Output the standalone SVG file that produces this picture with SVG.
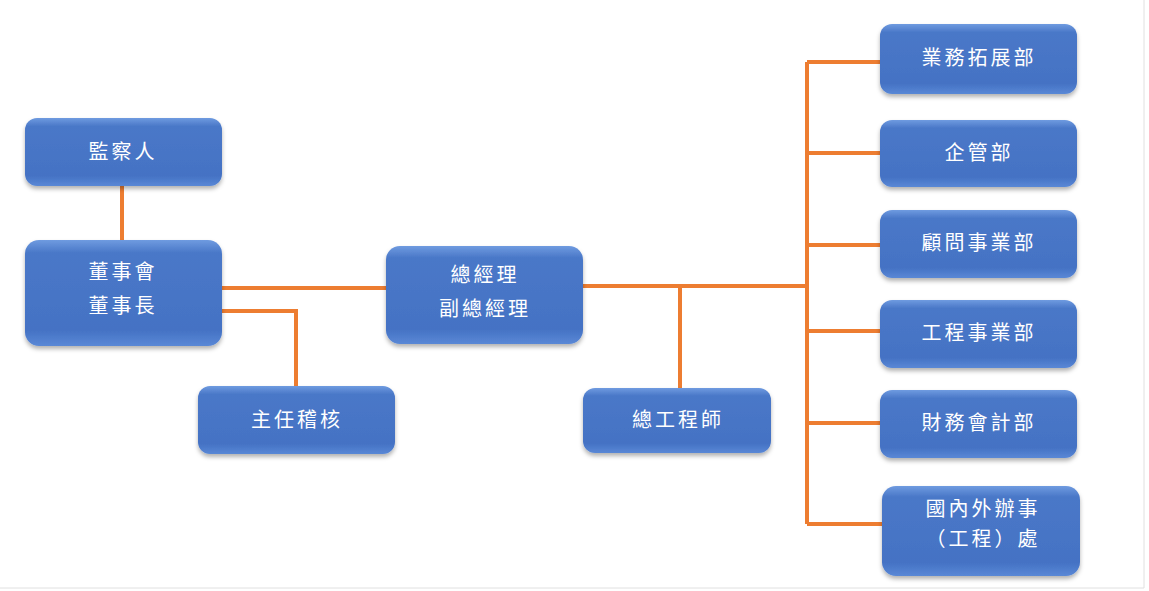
<svg xmlns="http://www.w3.org/2000/svg" width="1149" height="591" viewBox="0 0 1149 591">
<defs>
<linearGradient id="g" x1="0" y1="0" x2="0" y2="1">
<stop offset="0" stop-color="#6f9be0"/><stop offset="0.12" stop-color="#4a78c8"/><stop offset="0.85" stop-color="#4472c4"/><stop offset="1" stop-color="#5a88d6"/>
</linearGradient>
<filter id="s" x="-10%" y="-10%" width="120%" height="130%"><feDropShadow dx="0" dy="3" stdDeviation="2" flood-color="#000" flood-opacity="0.3"/></filter>
</defs>
<style>
.n rect{fill:url(#g);filter:url(#s)}
.n text{fill:#fff;font-family:"Noto Sans CJK TC","Noto Sans CJK SC",sans-serif;font-size:20px;letter-spacing:3px;text-anchor:middle}
.c{stroke:#ed7d31;stroke-width:4;fill:none}
</style>
<rect width="1149" height="591" fill="#fff"/>
<path d="M1144 0V588H0" stroke="#e0e0e0" stroke-width="1" fill="none"/>
<g id="connectors" class="c">
<path d="M122 186V240"/>
<path d="M222 288H386"/>
<path d="M222 311H296V386"/>
<path d="M583 286H807"/>
<path d="M680 286V388"/>
<path d="M807 62V524"/>
<path d="M807 62H880M807 153H880M807 245H880M807 331H880M807 423H880M807 524H882"/>
</g>
<g id="n1" class="n"><rect x="25" y="118" width="197" height="68" rx="12"/><text x="123" y="159">監察人</text></g>
<g id="n2" class="n"><rect x="25" y="240" width="197" height="106" rx="14"/><text x="123" y="279">董事會</text><text x="123" y="313">董事長</text></g>
<g id="n3" class="n"><rect x="198" y="386" width="197" height="68" rx="12"/><text x="297" y="427">主任稽核</text></g>
<g id="n4" class="n"><rect x="386" y="246" width="197" height="98" rx="14"/><text x="485" y="282">總經理</text><text x="485" y="316">副總經理</text></g>
<g id="n5" class="n"><rect x="583" y="388" width="188" height="65" rx="12"/><text x="678" y="427">總工程師</text></g>
<g id="n6" class="n"><rect x="880" y="24" width="197" height="70" rx="12"/><text x="979" y="65">業務拓展部</text></g>
<g id="n7" class="n"><rect x="880" y="120" width="197" height="67" rx="12"/><text x="979" y="160">企管部</text></g>
<g id="n8" class="n"><rect x="880" y="210" width="197" height="68" rx="12"/><text x="979" y="250">顧問事業部</text></g>
<g id="n9" class="n"><rect x="880" y="300" width="197" height="68" rx="12"/><text x="979" y="340">工程事業部</text></g>
<g id="n10" class="n"><rect x="880" y="390" width="197" height="68" rx="12"/><text x="979" y="430">財務會計部</text></g>
<g id="n11" class="n"><rect x="882" y="486" width="198" height="90" rx="14"/><text x="983" y="516">國內外辦事</text><text x="983" y="546">（工程）處</text></g>
</svg>
